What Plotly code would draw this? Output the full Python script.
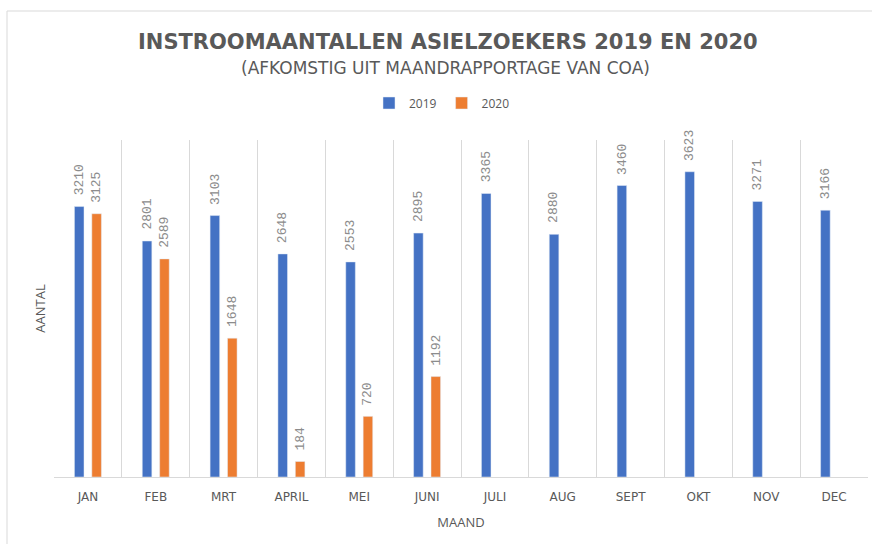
import plotly.graph_objects as go

months = ["JAN", "FEB", "MRT", "APRIL", "MEI", "JUNI", "JULI", "AUG", "SEPT", "OKT", "NOV", "DEC"]
v2019 = [3210, 2801, 3103, 2648, 2553, 2895, 3365, 2880, 3460, 3623, 3271, 3166]
v2020 = [3125, 2589, 1648, 184, 720, 1192, None, None, None, None, None, None]

BLUE = "#4472C4"
ORANGE = "#ED7D31"
GRAY = "#595959"
LABEL_GRAY = "#8c8c8c"

W, H = 872, 544
L, R, T, B = 54, 4, 140, 67
pw, ph = W - L - R, H - T - B
BARGAP, GROUPGAP = 0.487, 0.45
cat_px = pw / len(months)
off_px = (1 - BARGAP) / 4 * cat_px

fig = go.Figure()
for name, vals, col in [("2019", v2019, BLUE), ("2020", v2020, ORANGE)]:
    fig.add_trace(go.Bar(x=months, y=vals, name=name, marker_color=col))

# value labels (rotated, above each bar)
for vals, sign in [(v2019, -1), (v2020, 1)]:
    for m, v in zip(months, vals):
        if v is None:
            continue
        fig.add_annotation(x=m, y=v, xref="x", yref="y", text=str(v),
                           textangle=-90, showarrow=False,
                           xanchor="center", yanchor="bottom",
                           xshift=sign * off_px, yshift=9,
                           font=dict(family="Liberation Mono", size=13, color=LABEL_GRAY))

fig.update_layout(
    width=W, height=H,
    margin=dict(l=L, r=R, t=T, b=B, autoexpand=False),
    paper_bgcolor="white", plot_bgcolor="white",
    barmode="group", bargap=BARGAP, bargroupgap=GROUPGAP,
    font=dict(family="Open Sans", color=GRAY),
    showlegend=True,
    legend=dict(orientation="h", x=(442 - L) / pw, xanchor="center",
                y=(H - B - 103) / ph, yanchor="middle",
                font=dict(size=12, color=GRAY), itemwidth=30,
                traceorder="normal"),
    xaxis=dict(
        showgrid=True, gridcolor="#d9d9d9", gridwidth=1, tickson="boundaries",
        ticks="", showline=True, linecolor="#d9d9d9", automargin=False,
        ticklabelstandoff=9,
        tickfont=dict(size=12, color=GRAY, family="DejaVu Sans"),
        title=dict(text="MAAND", font=dict(size=13, color=GRAY), standoff=14),
    ),
    yaxis=dict(
        range=[0, 4000], showgrid=False, showticklabels=False, ticks="",
        zeroline=False, showline=False, automargin=False,
        title=dict(text="AANTAL", font=dict(size=13, color=GRAY), standoff=4),
    ),
)

# titles
fig.add_annotation(text="<b>INSTROOMAANTALLEN ASIELZOEKERS 2019 EN 2020</b>",
                   xref="paper", yref="paper", x=(448 - L) / pw,
                   y=(H - B - 42) / ph, xanchor="center", yanchor="middle",
                   showarrow=False, font=dict(size=21, color=GRAY, family="DejaVu Sans"))
fig.add_annotation(text="(AFKOMSTIG UIT MAANDRAPPORTAGE VAN COA)",
                   xref="paper", yref="paper", x=(445 - L) / pw,
                   y=(H - B - 68) / ph, xanchor="center", yanchor="middle",
                   showarrow=False, font=dict(size=17, color=GRAY, family="DejaVu Sans"))

# outer chart border
fig.add_shape(type="rect", xref="paper", yref="paper",
              x0=(7 - L) / pw, x1=(W + 5 - L) / pw,
              y0=(H - B - (H + 5)) / ph, y1=(H - B - 11) / ph,
              line=dict(color="#d9d9d9", width=1), fillcolor="rgba(0,0,0,0)", layer="below")

fig.write_html("out.html", config={"displayModeBar": False},
               post_script="document.body.style.margin='0';")
